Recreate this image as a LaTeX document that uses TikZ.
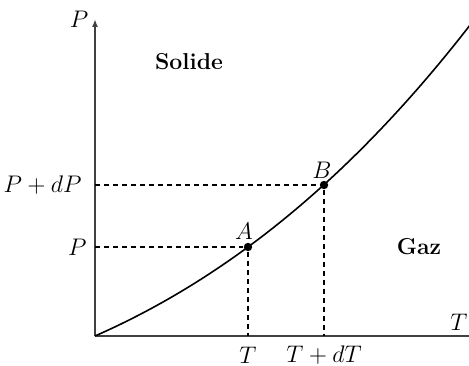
\documentclass[tikz,border=0pt]{standalone}
\usetikzlibrary{arrows.meta}
\begin{document}
\begin{tikzpicture}[x=0.5pt,y=0.5pt,
  axis/.style={draw=black!75,line width=0.9pt},
  guide/.style={draw=black,dash pattern=on 2.5pt off 2pt,line width=0.6pt},
  pt/.style={circle,fill=black,inner sep=0pt,minimum size=4.2pt},
  lbl/.style={inner sep=1pt,font=\fontsize{11.5}{14}\selectfont}]
\useasboundingbox (0,0) rectangle (469,365);
\coordinate (O) at (95,29);
\coordinate (Ptop) at (95,346);
\coordinate (Tend) at (472,29);
\draw[axis,-{Latex[length=4pt,width=3pt]}] (O) -- (Ptop);
\draw[axis] (O) -- (Tend);
\node[lbl] (Plab) at (79,346) {$P$};
\node[lbl] (Tlab) at (459,43) {$T$};
% curve (u = x/100)
\draw[line width=0.8pt,domain=0:3.8,samples=80,smooth]
  plot ({95+100*\x},{29+44*\x+8.5*\x*\x+0.5*\x*\x*\x});
\node[pt] (A) at (248,118) {};
\node[pt] (B) at (324,180) {};
\coordinate (Ay) at (95,118);
\coordinate (By) at (95,180);
\coordinate (Ax) at (248,29);
\coordinate (Bx) at (324,29);
\draw[guide] (Ay) -- (A);
\draw[guide] (By) -- (B);
\draw[guide] (A) -- (Ax);
\draw[guide] (B) -- (Bx);
\node[lbl,anchor=east] (PL) at (89,118) {$P$};
\node[lbl,anchor=east] (PdPL) at (84,180) {$P+dP$};
\node[lbl] (TL) at (248,10) {$T$};
\node[lbl] (TdTL) at (324,10) {$T+dT$};
\node[lbl] (AL) at (244,134) {$A$};
\node[lbl] (BL) at (322,195) {$B$};
\node[lbl] (sol) at (189,303) {\textbf{Solide}};
\node[lbl] (gaz) at (419,118) {\textbf{Gaz}};
\end{tikzpicture}
\end{document}
